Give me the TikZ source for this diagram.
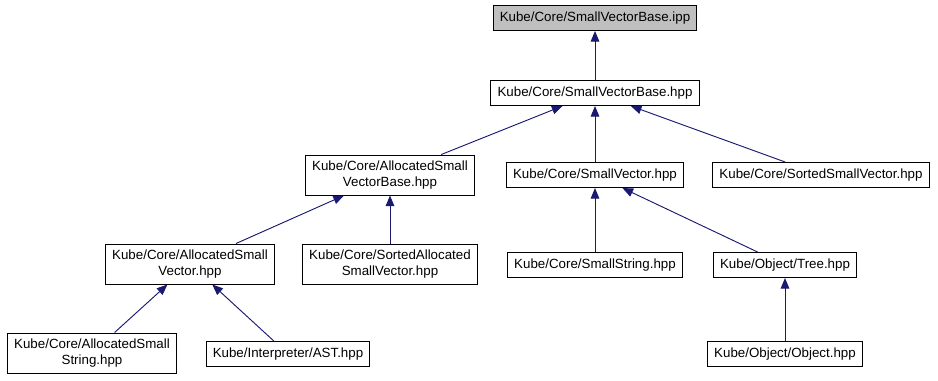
\documentclass[tikz,border=0pt]{standalone}
\usepackage{fontspec}
\setmainfont{Liberation Sans}
\usepackage{xcolor}
\usepackage{tikz}
\usetikzlibrary{arrows.meta}

\definecolor{depblue}{RGB}{25,25,112}
\definecolor{curgray}{RGB}{191,191,191}

\tikzset{
  file/.style={draw=black, line width=0.75pt, fill=white, inner xsep=5pt, inner ysep=0pt,
    minimum height=18.75pt, align=center, font=\fontsize{10}{12}\selectfont},
  twoline/.style={file, minimum height=30pt},
  dep/.style={draw=depblue, line width=0.7pt, -{Triangle[length=8pt,width=6.5pt]}}
}

\begin{document}
\begin{tikzpicture}[x=0.75pt,y=0.75pt,yscale=-1,xscale=1]
\useasboundingbox (0,0) rectangle (938,380);

% Files
\node [file, fill=curgray] (ipp) at (595,18) {Kube/Core/SmallVectorBase.ipp};
\node [file] (hpp) at (595,93) {Kube/Core/SmallVectorBase.hpp};
\node [twoline] (asvb) at (390,175) {Kube/Core/AllocatedSmall\\VectorBase.hpp};
\node [file] (sv) at (595,175) {Kube/Core/SmallVector.hpp};
\node [file] (ssv) at (821,175) {Kube/Core/SortedSmallVector.hpp};
\node [twoline] (asv) at (190,264) {Kube/Core/AllocatedSmall\\Vector.hpp};
\node [twoline] (sasv) at (390,264) {Kube/Core/SortedAllocated\\SmallVector.hpp};
\node [file] (ss) at (595,265) {Kube/Core/SmallString.hpp};
\node [file] (tree) at (785,265) {Kube/Object/Tree.hpp};
\node [twoline] (ass) at (92,353) {Kube/Core/AllocatedSmall\\String.hpp};
\node [file] (ast) at (288,354) {Kube/Interpreter/AST.hpp};
\node [file] (obj) at (785,354) {Kube/Object/Object.hpp};

% Includes
\draw [dep] (hpp) -- (ipp);
\draw [dep] (asvb) -- (hpp);
\draw [dep] (sv) -- (hpp);
\draw [dep] (ssv) -- (hpp);
\draw [dep] (asv) -- (asvb);
\draw [dep] (sasv) -- (asvb);
\draw [dep] (ss) -- (sv);
\draw [dep] (tree) -- (sv);
\draw [dep] (ass) -- (asv);
\draw [dep] (ast) -- (asv);
\draw [dep] (obj) -- (tree);

\end{tikzpicture}
\end{document}
